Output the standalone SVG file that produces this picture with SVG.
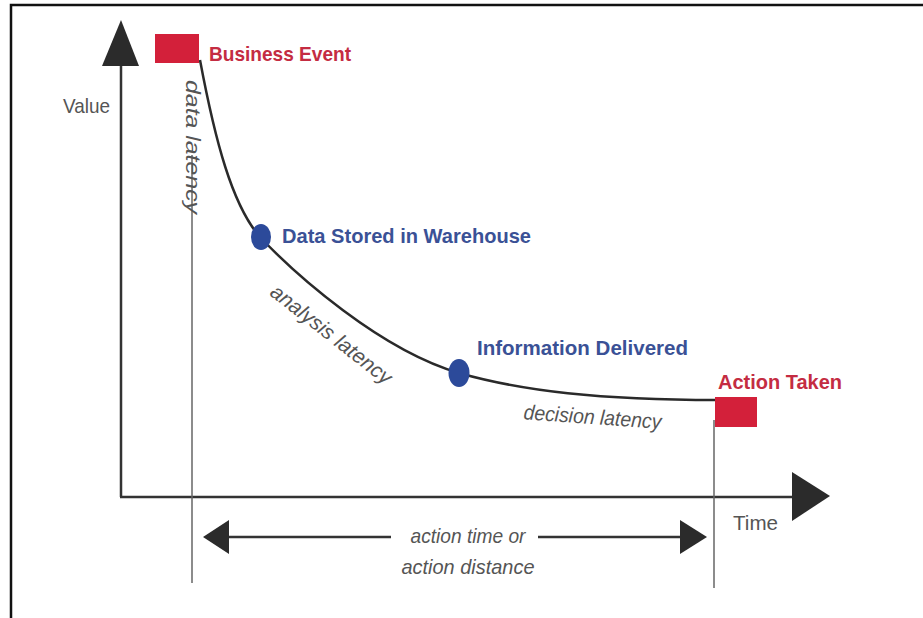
<svg xmlns="http://www.w3.org/2000/svg" width="923" height="618" viewBox="0 0 923 618">
  <style>
    .axis { stroke: #333; stroke-width: 2.5; fill: none; }
    .guide { stroke: #666; stroke-width: 1.5; fill: none; }
    .curve { stroke: #2a2a2a; stroke-width: 2.5; fill: none; }
    .head { fill: #2b2b2b; }
    .event { fill: #d3203a; }
    .stage { fill: #2c4a9a; }
    .lbl-red { font-family: "Liberation Sans", Arial, sans-serif; font-weight: bold; font-size: 21px; fill: #c42c42; }
    .lbl-blue { font-family: "Liberation Sans", Arial, sans-serif; font-weight: bold; font-size: 21px; fill: #3a5196; }
    .lbl-axis { font-family: "Liberation Sans", Arial, sans-serif; font-size: 21px; fill: #555; }
    .lbl-lat { font-family: "Liberation Sans", Arial, sans-serif; font-style: italic; font-size: 21px; fill: #555; }
  </style>

  <rect x="0" y="0" width="923" height="618" fill="#fff"/>
  <!-- frame -->
  <path d="M11,618 V5 H923" fill="none" stroke="#111" stroke-width="2.5"/>

  <!-- connectors: axes, guides and the value curve -->
  <g id="connectors">
    <line class="axis" x1="121" y1="64" x2="121" y2="497"/>
    <polygon class="head" points="102,66 139,66 121,20"/>
    <line class="axis" x1="120" y1="497" x2="794" y2="497"/>
    <polygon class="head" points="792,472 792,521 830,496"/>

    <line class="guide" x1="192" y1="155" x2="192" y2="583"/>
    <line class="guide" x1="714" y1="420" x2="714" y2="588"/>

    <line class="axis" x1="227" y1="537" x2="391" y2="537"/>
    <polygon class="head" points="229,520 229,554 203,537"/>
    <line class="axis" x1="538" y1="537" x2="682" y2="537"/>
    <polygon class="head" points="680,520 680,554 707,537"/>

    <path class="curve" d="M200,60 C215,140 232,205 260,237 C295,274 380,350 459,373 C522,391 600,400 717,400"/>
  </g>

  <g id="axis-labels">
    <text class="lbl-axis" x="63" y="113" textLength="47" lengthAdjust="spacingAndGlyphs">Value</text>
    <text class="lbl-axis" x="733" y="530" textLength="45" lengthAdjust="spacingAndGlyphs">Time</text>
  </g>

  <g id="business-event">
    <rect class="event" x="155" y="34" width="44" height="29"/>
    <text class="lbl-red" x="209" y="61" textLength="142" lengthAdjust="spacingAndGlyphs">Business Event</text>
  </g>

  <g id="data-stored">
    <ellipse class="stage" cx="261" cy="237" rx="10" ry="13"/>
    <text class="lbl-blue" x="282" y="243" textLength="249" lengthAdjust="spacingAndGlyphs">Data Stored in Warehouse</text>
  </g>

  <g id="information-delivered">
    <ellipse class="stage" cx="459" cy="373" rx="10.5" ry="14"/>
    <text class="lbl-blue" x="477" y="355" textLength="211" lengthAdjust="spacingAndGlyphs">Information Delivered</text>
  </g>

  <g id="action-taken">
    <rect class="event" x="715" y="397" width="42" height="30"/>
    <text class="lbl-red" x="718" y="389" textLength="124" lengthAdjust="spacingAndGlyphs">Action Taken</text>
  </g>

  <g id="latencies">
    <text class="lbl-lat" transform="translate(186,80) rotate(90)" textLength="134" lengthAdjust="spacingAndGlyphs">data latency</text>
    <text class="lbl-lat" transform="translate(327,340) rotate(38)" text-anchor="middle" textLength="148" lengthAdjust="spacingAndGlyphs">analysis latency</text>
    <text class="lbl-lat" transform="translate(592,424) rotate(4)" text-anchor="middle" textLength="138" lengthAdjust="spacingAndGlyphs">decision latency</text>
  </g>

  <g id="action-time">
    <text class="lbl-lat" x="468" y="543" text-anchor="middle" textLength="115" lengthAdjust="spacingAndGlyphs">action time or</text>
    <text class="lbl-lat" x="468" y="574" text-anchor="middle" textLength="133" lengthAdjust="spacingAndGlyphs">action distance</text>
  </g>
</svg>
